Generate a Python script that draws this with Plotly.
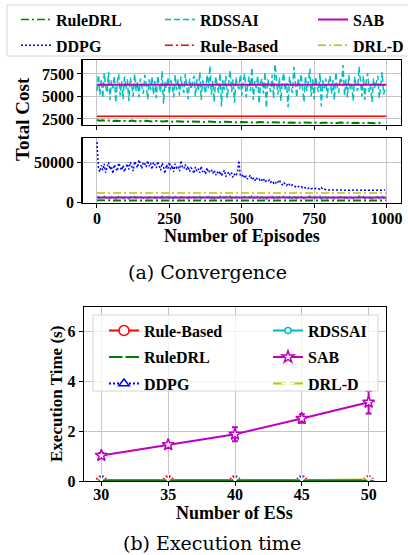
import plotly.graph_objects as go

W, H = 408, 555

# ---------------- data: convergence (sampled every 5 episodes) ----------------
episodes = list(range(0, 1000, 5))

rdssai_cost = [
    5600, 7400, 5200, 6900, 4800, 7600, 6100, 5400, 7700, 4600, 6800, 5900, 7300, 4300, 6500, 7500, 5100, 6700, 4700, 7200,
    5800, 6900, 4500, 7100, 6300, 5000, 7500, 5600, 6600, 4900, 7000, 6000, 5300, 7400, 6400, 4700, 6900, 5700, 7200, 5200,
    6700, 4800, 7300, 6100, 5500, 7800, 4200, 6600, 5900, 7100, 5300, 6800, 6200, 4900, 7400, 5700, 6900, 5100, 7200, 6000,
    5400, 7500, 6300, 4700, 7000, 5800, 6600, 7300, 5000, 6900, 5600, 7700, 4600, 6800, 6100, 5300, 7400, 5900, 8400, 5200,
    6700, 4400, 7200, 6000, 5400, 7600, 3900, 6800, 5700, 7300, 4800, 6500, 7900, 5500, 6900, 4300, 7100, 6200, 5800, 7400,
    5100, 6800, 7500, 4900, 6400, 7200, 5600, 8200, 4600, 6700, 5900, 7300, 4200, 6600, 7000, 5300, 7700, 3700, 6900, 6100,
    5500, 7400, 4800, 8600, 6300, 5200, 7100, 4500, 6800, 7600, 5700, 6500, 3800, 7200, 6000, 5400, 8300, 6600, 4900, 7000,
    5800, 7500, 6200, 4400, 7300, 5600, 6700, 8100, 5000, 6900, 4700, 7200, 6100, 5500, 7600, 3900, 6800, 5900, 7000, 4800,
    6500, 7300, 5300, 6800, 4600, 7700, 6000, 5400, 7100, 6600, 8500, 5100, 6900, 4900, 7400, 5800, 6300, 4500, 7200, 6100,
    5600, 8300, 6700, 5000, 7300, 4600, 6800, 7600, 5500, 6200, 4400, 7000, 5900, 6600, 7300, 4800, 6400, 7700, 5200, 5800,
]

ddpg_cost = [
    75000, 43000, 38000, 46000, 40000, 48000, 37000, 44000, 50000, 41000, 45000, 36000, 47000, 42000, 39000, 49000, 43000, 40000, 46000, 38000,
    44000, 48000, 41000, 50000, 45000, 39000, 51000, 47000, 43000, 53000, 46000, 42000, 50000, 48000, 44000, 52000, 45000, 49000, 41000, 50000,
    47000, 43000, 51000, 45000, 40000, 49000, 44000, 36000, 47000, 42000, 50000, 41000, 46000, 38000, 48000, 43000, 45000, 39000, 52000, 44000,
    42000, 47000, 40000, 45000, 38000, 43000, 41000, 36000, 44000, 39000, 42000, 37000, 45000, 38000, 40000, 35000, 43000, 37000, 39000, 41000,
    36000, 40000, 34000, 38000, 35000, 39000, 33000, 37000, 40000, 32000, 36000, 38000, 34000, 37000, 31000, 35000, 33000, 38000, 52000, 34000,
    32000, 35000, 30000, 33000, 29000, 31000, 34000, 28000, 30000, 27000, 31000, 28000, 29000, 26000, 28000, 30000, 25000, 27000, 26000, 28000,
    25000, 27000, 24000, 26000, 23000, 25000, 28000, 24000, 22000, 25000, 23000, 21000, 24000, 22000, 20000, 22000, 21000, 19500, 21000, 20000,
    19000, 20000, 18500, 19500, 18000, 19000, 17500, 18500, 17000, 18000, 17000, 17500, 16500, 17000, 16500, 18500, 16000, 16500, 15800, 15500,
    15500, 15300, 15400, 15200, 15400, 15300, 15500, 15200, 15300, 15400, 15300, 15200, 15400, 15300, 15200, 15400, 15300, 15500, 15200, 15300,
    15400, 15200, 15300, 15400, 15300, 15200, 15400, 15300, 15200, 15300, 15400, 15300, 15200, 15300, 15400, 15200, 15300, 15300, 15200, 15400,
]

ruledrl_episodes = list(range(0, 1000, 10))
ruledrl_cost = [
    2380, 2300, 2350, 2280, 2330, 2260, 2310, 2290, 2340, 2270,
    2300, 2250, 2320, 2240, 2290, 2270, 2230, 2300, 2250, 2220,
    2280, 2240, 2260, 2210, 2270, 2230, 2190, 2250, 2220, 2200,
    2240, 2180, 2230, 2210, 2170, 2220, 2190, 2160, 2210, 2180,
    2150, 2200, 2170, 2140, 2190, 2160, 2130, 2180, 2150, 2120,
    2170, 2140, 2110, 2160, 2130, 2100, 2150, 2120, 2160, 2100,
    2140, 2110, 2090, 2130, 2100, 2150, 2080, 2120, 2090, 2110,
    2070, 2120, 2090, 2060, 2110, 2080, 2100, 2050, 2090, 2070,
    2110, 2060, 2080, 2050, 2100, 2070, 2040, 2090, 2060, 2080,
    2050, 2070, 2040, 2080, 2050, 2060, 2030, 2070, 2050, 2040,
]

flat_episodes = [0, 999]
rule_based_cost = [2800, 2800]
sab_cost = [6300, 6300]
drld_cost = [11800, 11800]

# ---------------- data: execution time ----------------
num_es = [30, 35, 40, 45, 50]
exec_rule_based = [0.01, 0.01, 0.01, 0.01, 0.01]
exec_ruledrl = [0.02, 0.02, 0.02, 0.02, 0.02]
exec_ddpg = [0.01, 0.01, 0.01, 0.01, 0.01]
exec_rdssai = [0.02, 0.02, 0.03, 0.03, 0.03]
exec_sab = [1.02, 1.45, 1.87, 2.50, 3.15]
exec_sab_err = [0.10, 0.07, 0.28, 0.17, 0.45]
exec_drld = [0.02, 0.02, 0.02, 0.03, 0.06]
exec_small_err = [0.005, 0.005, 0.005, 0.005, 0.005]

# ---------------- styles ----------------
C_G, C_C, C_M = "#008000", "#00bfbf", "#bf00bf"
C_B, C_R, C_Y = "#0000ff", "#ff0000", "#bfbf00"
DASHDOT = "8px,3px,2px,3px"
DASHED = "6px,3px"
DOTTED = "2px,2px"
SERIF = "Liberation Serif"

fig = go.Figure()

# top panel (zoomed range)
top = dict(xaxis="x", yaxis="y", mode="lines", showlegend=False, hoverinfo="skip")
fig.add_trace(go.Scatter(x=episodes, y=ddpg_cost, line=dict(color=C_B, width=1.5, dash=DOTTED), **top))
fig.add_trace(go.Scatter(x=flat_episodes, y=drld_cost, line=dict(color=C_Y, width=1.5, dash=DASHDOT), **top))
fig.add_trace(go.Scatter(x=episodes, y=rdssai_cost, line=dict(color=C_C, width=1.5, dash=DASHED), **top))
fig.add_trace(go.Scatter(x=flat_episodes, y=sab_cost, line=dict(color=C_M, width=2), **top))
fig.add_trace(go.Scatter(x=flat_episodes, y=rule_based_cost, line=dict(color=C_R, width=1.5), **top))
fig.add_trace(go.Scatter(x=ruledrl_episodes, y=ruledrl_cost, line=dict(color=C_G, width=2, dash=DASHDOT), **top))

# bottom panel (full range) with legend entries
bot = dict(xaxis="x2", yaxis="y2", mode="lines", hoverinfo="skip")
fig.add_trace(go.Scatter(x=episodes, y=ddpg_cost, name="DDPG", legend="legend", legendgroup="a2", legendrank=2,
                         line=dict(color=C_B, width=1.5, dash=DOTTED), **bot))
fig.add_trace(go.Scatter(x=flat_episodes, y=drld_cost, name="DRL-D", legend="legend3", legendgroup="c2", legendrank=2,
                         line=dict(color=C_Y, width=1.5, dash=DASHDOT), **bot))
fig.add_trace(go.Scatter(x=episodes, y=rdssai_cost, name="RDSSAI", legend="legend2", legendgroup="b1", legendrank=1,
                         line=dict(color=C_C, width=1.5, dash=DASHED), **bot))
fig.add_trace(go.Scatter(x=flat_episodes, y=sab_cost, name="SAB", legend="legend3", legendgroup="c1", legendrank=1,
                         line=dict(color=C_M, width=2), **bot))
fig.add_trace(go.Scatter(x=flat_episodes, y=rule_based_cost, name="Rule-Based", legend="legend2", legendgroup="b2", legendrank=2,
                         line=dict(color=C_R, width=1.5, dash=DASHDOT), **bot))
fig.add_trace(go.Scatter(x=ruledrl_episodes, y=ruledrl_cost, name="RuleDRL", legend="legend", legendgroup="a1", legendrank=1,
                         line=dict(color=C_G, width=1.5, dash=DASHDOT), **bot))

# execution time panel
def exec_trace(y, err, name, color, symbol, size, dash, leg, rank, mwidth=1.5):
    return go.Scatter(
        x=num_es, y=y, name=name, xaxis="x3", yaxis="y3", mode="lines+markers",
        legend=leg, legendgroup=name + "e", legendrank=rank, hoverinfo="skip",
        line=dict(color=color, width=2, dash=dash),
        marker=dict(symbol=symbol, size=size, color="white", line=dict(color=color, width=mwidth)),
        error_y=dict(type="data", array=err, visible=True, color=color, thickness=2, width=3),
    )

fig.add_trace(exec_trace(exec_rule_based, exec_small_err, "Rule-Based", C_R, "circle", 10, "solid", "legend4", 1))
fig.add_trace(exec_trace(exec_rdssai, exec_small_err, "RDSSAI", C_C, "circle", 6, "solid", "legend5", 1))
fig.add_trace(exec_trace(exec_ddpg, exec_small_err, "DDPG", C_B, "triangle-up", 9, DOTTED, "legend4", 3))
fig.add_trace(exec_trace(exec_drld, exec_small_err, "DRL-D", C_Y, "asterisk-open", 11, "solid", "legend5", 3))
fig.add_trace(exec_trace(exec_ruledrl, exec_small_err, "RuleDRL", C_G, "x-thin-open", 9, "solid", "legend4", 2))
fig.add_trace(exec_trace(exec_sab, exec_sab_err, "SAB", C_M, "star", 9, "solid", "legend5", 2))

# ---------------- axes ----------------
def px_x(a, b):
    return [a / W, b / W]

def px_y(top_px, bottom_px):
    return [1 - bottom_px / H, 1 - top_px / H]

tickfont = dict(family=SERIF, size=16, color="black", weight="bold")
ax_common = dict(showline=True, mirror=True, linecolor="black", linewidth=1.2,
                 showgrid=True, gridcolor="#c4c4c4", gridwidth=1, zeroline=False, automargin=False,
                 ticks="outside", ticklen=4, tickcolor="black", tickwidth=1, tickfont=tickfont,
                 tickformat="d")

fig.update_layout(
    xaxis=dict(domain=px_x(82.5, 401), range=[-50, 1050], anchor="y", tickvals=[0, 250, 500, 750, 1000],
               showticklabels=False, **ax_common),
    yaxis=dict(domain=px_y(60, 125), range=[1830, 9050], anchor="x", tickvals=[2500, 5000, 7500], **ax_common),
    xaxis2=dict(domain=px_x(82.5, 401), range=[-50, 1050], anchor="y2", tickvals=[0, 250, 500, 750, 1000],
                ticklabelstandoff=-3, **ax_common),
    yaxis2=dict(domain=px_y(138, 202.5), range=[0, 80000], anchor="x2", tickvals=[0, 50000], **ax_common),
    xaxis3=dict(domain=px_x(84, 386), range=[28.7, 51.3], anchor="y3", tickvals=num_es,
                ticklabelstandoff=-5, **ax_common),
    yaxis3=dict(domain=px_y(307, 481), range=[0, 6.96], anchor="x3", tickvals=[0, 2, 4, 6], **ax_common),
)

# ---------------- legends ----------------
legfont = dict(family=SERIF, size=16, color="black", weight="bold")

def leg(xpx, ypx, gap):
    return dict(x=xpx / W, y=1 - ypx / H, xanchor="left", yanchor="top", orientation="v",
                bgcolor="rgba(0,0,0,0)", borderwidth=0, font=legfont, traceorder="grouped",
                tracegroupgap=gap, itemclick=False, itemdoubleclick=False)

fig.update_layout(
    legend=leg(16, 2.6, 2),
    legend2=leg(160, 2.6, 2),
    legend3=leg(313, 2.6, 2),
    legend4=leg(104, 313.6, 2.7),
    legend5=leg(268, 313.6, 2.7),
)

# legend frames
fig.add_shape(type="rect", xref="paper", yref="paper", x0=7 / W, x1=412 / W, y0=1 - 56 / H, y1=1 - 5 / H,
              line=dict(color="#d4d4d4", width=1), fillcolor="white", layer="above")
fig.add_shape(type="rect", xref="paper", yref="paper", x0=93 / W, x1=378 / W, y0=1 - 391 / H, y1=1 - 315 / H,
              line=dict(color="#d4d4d4", width=1), fillcolor="rgba(255,255,255,0.8)", layer="above")

# ---------------- titles / captions ----------------
def ann(text, xpx, ypx, size, family=SERIF, weight="bold", angle=0):
    fig.add_annotation(text=text, x=xpx / W, y=1 - ypx / H, xref="paper", yref="paper",
                       xanchor="center", yanchor="middle", showarrow=False, textangle=angle,
                       font=dict(family=family, size=size, color="black", weight=weight))

ann("Total Cost", 22, 119, 19, angle=-90)
ann("Number of Episodes", 241.5, 236, 18)
ann("(a) Convergence", 207, 272, 19, family="DejaVu Serif", weight="normal")
ann("Execution Time (s)", 56, 394, 17, angle=-90)
ann("Number of ESs", 235, 512.5, 18)
ann("(b) Execution time", 212, 543, 19, family="DejaVu Serif", weight="normal")

fig.update_layout(width=W, height=H, autosize=False,
                  margin=dict(l=0, r=0, t=0, b=0, pad=0, autoexpand=False),
                  paper_bgcolor="white", plot_bgcolor="white")

fig.write_html(
    "out.html",
    config={"displayModeBar": False, "staticPlot": True},
    post_script="document.documentElement.style.margin='0';document.documentElement.style.overflow='hidden';"
                "document.body.style.margin='0';document.body.style.padding='0';document.body.style.overflow='hidden';",
)
